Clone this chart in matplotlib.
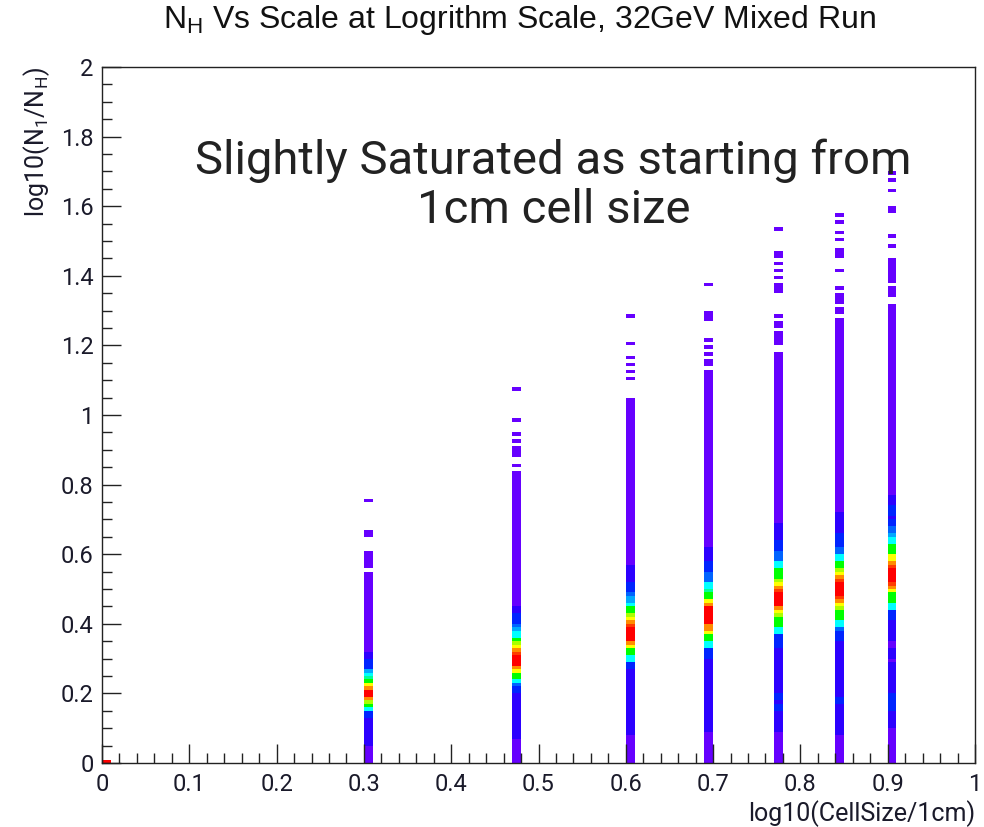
import numpy as np
import matplotlib
matplotlib.use("Agg")
import matplotlib.pyplot as plt
from matplotlib.colors import ListedColormap, BoundaryNorm
from matplotlib.ticker import MultipleLocator, FuncFormatter

# Cell sizes (cm) of the mixed run; x is log10(size / 1cm)
cell_size_cm = [1, 2, 3, 4, 5, 6, 7, 8]

# Colour levels per column: (y_low, y_high, level), y = log10(N1/NH)
col_1cm = [(0.00, 0.01, 13)]
col_2cm = [(0.00, 0.05, 1), (0.05, 0.13, 2), (0.13, 0.15, 3), (0.15, 0.16, 6),
           (0.16, 0.17, 8), (0.17, 0.18, 9), (0.18, 0.19, 11), (0.19, 0.21, 13),
           (0.21, 0.22, 11), (0.22, 0.23, 10), (0.23, 0.24, 8), (0.24, 0.25, 7),
           (0.25, 0.26, 6), (0.26, 0.27, 5), (0.27, 0.30, 3), (0.30, 0.32, 2),
           (0.32, 0.55, 1), (0.56, 0.61, 1), (0.65, 0.67, 1), (0.75, 0.76, 1)]
col_3cm = [(0.00, 0.07, 1), (0.07, 0.20, 2), (0.20, 0.22, 3), (0.22, 0.23, 4),
           (0.23, 0.24, 6), (0.24, 0.26, 8), (0.26, 0.27, 10), (0.27, 0.28, 11),
           (0.28, 0.31, 13), (0.31, 0.32, 12), (0.32, 0.33, 11), (0.33, 0.34, 10),
           (0.34, 0.35, 9), (0.35, 0.36, 8), (0.36, 0.38, 6), (0.38, 0.39, 5),
           (0.39, 0.40, 4), (0.40, 0.43, 3), (0.43, 0.45, 2), (0.45, 0.84, 1),
           (0.85, 0.86, 1), (0.88, 0.91, 1), (0.92, 0.93, 1), (0.94, 0.95, 1),
           (0.98, 0.99, 1), (1.07, 1.08, 1)]
col_4cm = [(0.00, 0.08, 1), (0.08, 0.27, 2), (0.27, 0.29, 3), (0.29, 0.31, 6),
           (0.31, 0.33, 8), (0.33, 0.34, 10), (0.34, 0.35, 11), (0.35, 0.39, 13),
           (0.39, 0.40, 12), (0.40, 0.41, 11), (0.41, 0.42, 10), (0.42, 0.43, 9),
           (0.43, 0.45, 8), (0.45, 0.46, 6), (0.46, 0.48, 5), (0.48, 0.49, 4),
           (0.49, 0.52, 3), (0.52, 0.57, 2), (0.57, 1.05, 1), (1.10, 1.11, 1),
           (1.12, 1.13, 1), (1.14, 1.15, 1), (1.16, 1.17, 1), (1.20, 1.21, 1),
           (1.28, 1.29, 1)]
col_5cm = [(0.00, 0.09, 1), (0.09, 0.30, 2), (0.30, 0.33, 3), (0.33, 0.35, 6),
           (0.35, 0.37, 8), (0.37, 0.38, 10), (0.38, 0.40, 11), (0.40, 0.45, 13),
           (0.45, 0.46, 11), (0.46, 0.47, 10), (0.47, 0.49, 8), (0.49, 0.50, 7),
           (0.50, 0.52, 6), (0.52, 0.55, 4), (0.55, 0.58, 3), (0.58, 0.62, 2),
           (0.62, 1.13, 1), (1.14, 1.16, 1), (1.17, 1.18, 1), (1.19, 1.20, 1),
           (1.21, 1.22, 1), (1.27, 1.30, 1), (1.37, 1.38, 1)]
col_6cm = [(0.00, 0.09, 1), (0.09, 0.15, 2), (0.15, 0.17, 3), (0.17, 0.18, 2),
           (0.18, 0.20, 3), (0.20, 0.33, 2), (0.33, 0.37, 3), (0.37, 0.39, 6),
           (0.39, 0.42, 8), (0.42, 0.43, 9), (0.43, 0.44, 10), (0.44, 0.45, 11),
           (0.45, 0.49, 13), (0.49, 0.50, 12), (0.50, 0.51, 11), (0.51, 0.52, 10),
           (0.52, 0.53, 9), (0.53, 0.56, 8), (0.56, 0.58, 6), (0.58, 0.61, 4),
           (0.61, 0.64, 3), (0.64, 0.69, 2), (0.69, 1.18, 1), (1.20, 1.24, 1),
           (1.25, 1.27, 1), (1.28, 1.29, 1), (1.35, 1.38, 1), (1.39, 1.40, 1),
           (1.41, 1.42, 1), (1.43, 1.44, 1), (1.45, 1.47, 1), (1.53, 1.54, 1)]
col_7cm = [(0.00, 0.08, 1), (0.08, 0.17, 2), (0.17, 0.19, 3), (0.19, 0.35, 2),
           (0.35, 0.38, 3), (0.38, 0.39, 4), (0.39, 0.41, 6), (0.41, 0.44, 8),
           (0.44, 0.45, 9), (0.45, 0.46, 10), (0.46, 0.47, 11), (0.47, 0.48, 12),
           (0.48, 0.52, 13), (0.52, 0.53, 12), (0.53, 0.54, 11), (0.54, 0.55, 10),
           (0.55, 0.56, 9), (0.56, 0.58, 8), (0.58, 0.60, 6), (0.60, 0.62, 4),
           (0.62, 0.66, 3), (0.66, 0.72, 2), (0.72, 1.28, 1), (1.29, 1.31, 1),
           (1.32, 1.35, 1), (1.36, 1.37, 1), (1.41, 1.42, 1), (1.45, 1.48, 1),
           (1.50, 1.51, 1), (1.52, 1.53, 1), (1.55, 1.56, 1), (1.57, 1.58, 1)]
col_8cm = [(0.00, 0.10, 1), (0.10, 0.15, 2), (0.15, 0.20, 3), (0.20, 0.29, 2),
           (0.29, 0.30, 1), (0.30, 0.33, 2), (0.33, 0.35, 1), (0.35, 0.41, 2),
           (0.41, 0.44, 3), (0.44, 0.46, 6), (0.46, 0.49, 8), (0.49, 0.50, 10),
           (0.50, 0.51, 11), (0.51, 0.52, 12), (0.52, 0.56, 13), (0.56, 0.57, 12),
           (0.57, 0.58, 11), (0.58, 0.60, 10), (0.60, 0.63, 8), (0.63, 0.65, 6),
           (0.65, 0.66, 5), (0.66, 0.68, 4), (0.68, 0.70, 3), (0.70, 0.71, 2),
           (0.71, 0.74, 3), (0.74, 0.77, 2), (0.77, 1.32, 1), (1.34, 1.37, 1),
           (1.38, 1.45, 1), (1.48, 1.49, 1), (1.51, 1.52, 1), (1.58, 1.60, 1),
           (1.64, 1.65, 1), (1.67, 1.68, 1), (1.69, 1.70, 1)]
columns = [col_1cm, col_2cm, col_3cm, col_4cm, col_5cm, col_6cm, col_7cm, col_8cm]

# Rainbow palette, low (violet) to high (red)
palette = ["#6600ff", "#2c00ff", "#0024ff", "#0064ff", "#00a8ff", "#00ffff",
           "#00ff99", "#00ff00", "#aaff00", "#ffff00", "#ff8c00", "#ff3c00",
           "#ff0000"]

x_ticks = [0, 0.1, 0.2, 0.3, 0.4, 0.5, 0.6, 0.7, 0.8, 0.9, 1]
y_ticks = [0, 0.2, 0.4, 0.6, 0.8, 1, 1.2, 1.4, 1.6, 1.8, 2]

# 100 x 200 histogram binning
x_edges = np.linspace(0, 1, 101)
y_edges = np.linspace(0, 2, 201)
Z = np.full((len(y_edges) - 1, len(x_edges) - 1), np.nan)
for size, segs in zip(cell_size_cm, columns):
    ix = np.searchsorted(x_edges, np.log10(size), side="right") - 1
    for lo, hi, lvl in segs:
        Z[int(round(lo * 100)):int(round(hi * 100)), ix] = lvl

W, H = 984, 827
fig = plt.figure(figsize=(W / 100, H / 100), dpi=100)
ax = fig.add_axes([102 / W, 1 - 763 / H, 873 / W, 696 / H])

cmap = ListedColormap(palette)
norm = BoundaryNorm(np.arange(0.5, len(palette) + 1.5), len(palette))
ax.pcolormesh(x_edges, y_edges, np.ma.masked_invalid(Z), cmap=cmap, norm=norm,
              antialiased=False, linewidth=0, shading="flat")

ax.set_xlim(0, 1)
ax.set_ylim(0, 2)

label_font = "Roboto"
fmt = FuncFormatter(lambda v, p: "%g" % round(v, 3))
ax.set_xticks(x_ticks)
ax.set_yticks(y_ticks)
ax.xaxis.set_major_formatter(fmt)
ax.yaxis.set_major_formatter(fmt)
ax.xaxis.set_minor_locator(MultipleLocator(0.02))
ax.yaxis.set_minor_locator(MultipleLocator(0.05))
ax.tick_params(axis="both", which="both", direction="in", colors="#222222",
               width=1.0, top=False, right=False)
ax.tick_params(axis="both", which="major", length=14, labelsize=17)
ax.tick_params(axis="x", which="major", pad=7)
ax.tick_params(axis="y", which="major", pad=6)
ax.tick_params(axis="both", which="minor", length=7)
for lab in ax.get_xticklabels() + ax.get_yticklabels():
    lab.set_fontfamily(label_font)
    lab.set_color("#1a1a2a")
for sp in ax.spines.values():
    sp.set_linewidth(1.0)
    sp.set_color("#222222")

ax.set_xlabel("log10(CellSize/1cm)", fontsize=18, family=label_font,
              loc="right", color="#1a1a2a")
ax.xaxis.set_label_coords(1.0, -0.053)
ax.set_ylabel(r"log10(N$_{\mathregular{1}}$/N$_{\mathregular{H}}$)", fontsize=18,
              family=label_font, loc="top", color="#1a1a2a")
ax.yaxis.set_label_coords(-0.057, 1.0)

fig.text(519 / W, 1 - 20 / H,
         r"N$_{\mathregular{H}}$ Vs Scale at Logrithm Scale, 32GeV Mixed Run",
         ha="center", va="center", fontsize=23,
         family=["Liberation Sans Narrow", "Liberation Sans", "DejaVu Sans"],
         color="#111111")

ax.text(0.517, 1.66, "Slightly Saturated as starting from\n1cm cell size",
        ha="center", va="center", fontsize=34, family="Roboto",
        color="#222222", linespacing=1.12)

fig.savefig("out.png", dpi=100)
